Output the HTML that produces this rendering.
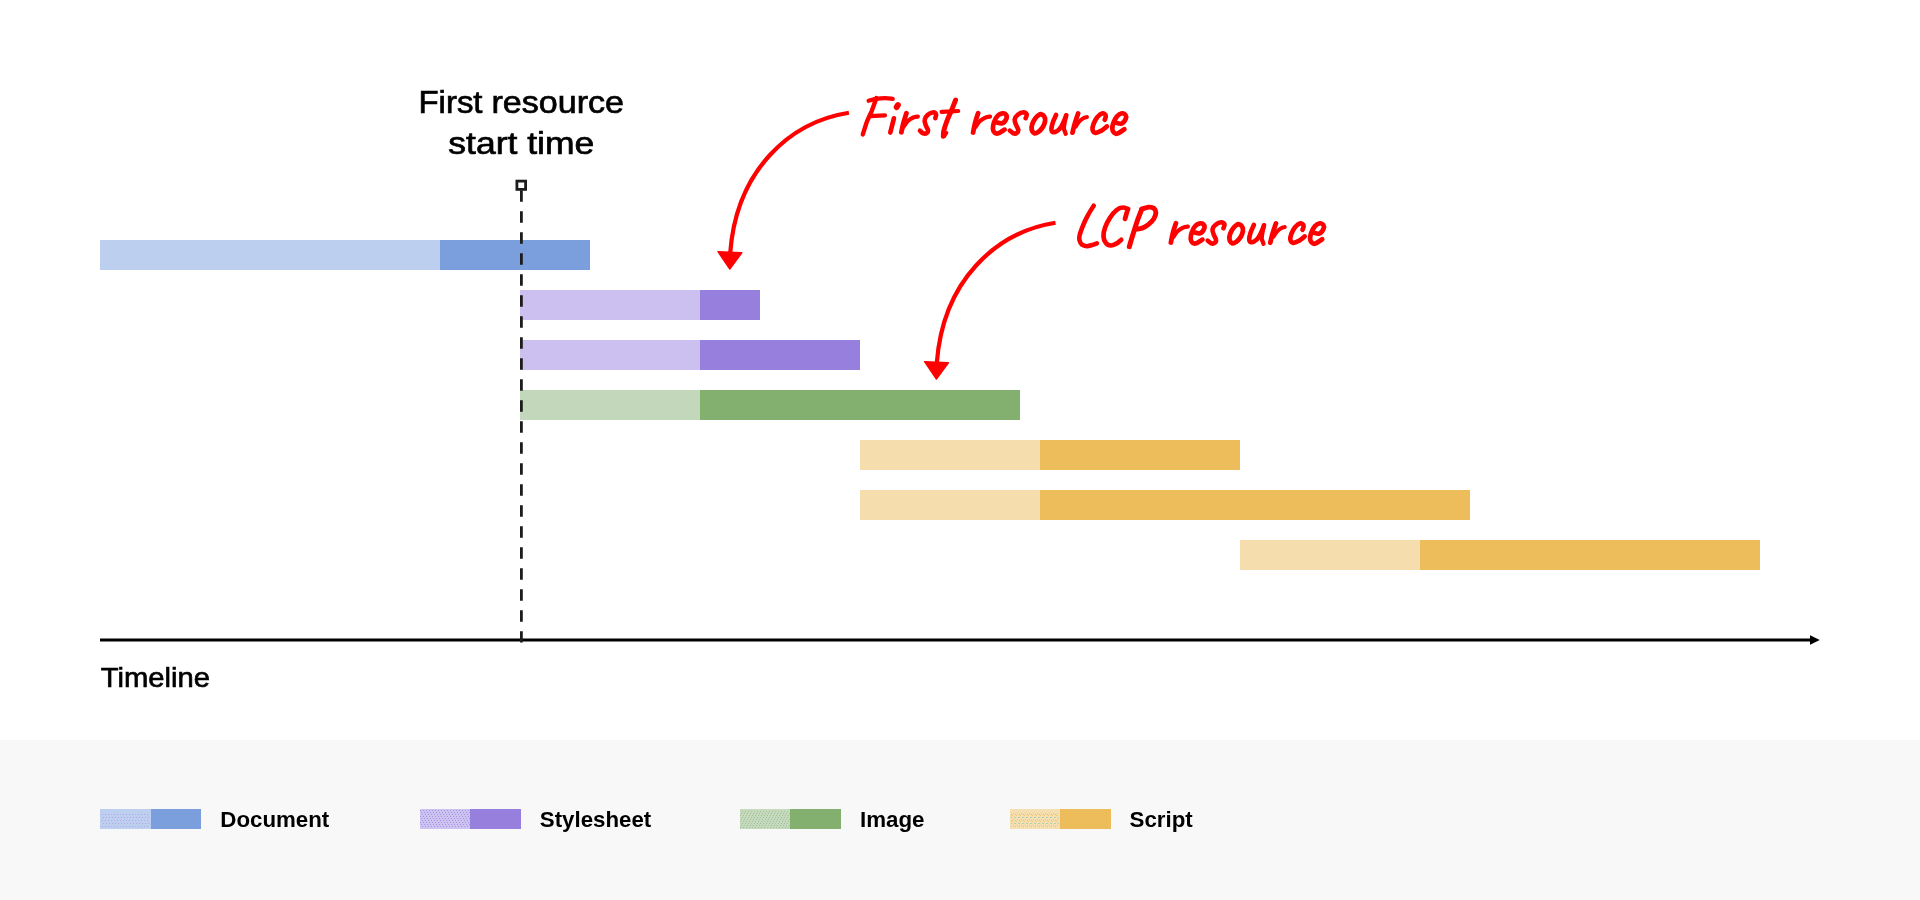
<!DOCTYPE html>
<html lang="en">
<head>
<meta charset="utf-8">
<title>First resource start time – network waterfall</title>
<style>
  html, body { margin: 0; padding: 0; background: #ffffff; }
  body { width: 1920px; height: 900px; overflow: hidden; font-family: "Liberation Sans", sans-serif; }
  svg { display: block; position: absolute; left: 0; top: 0; will-change: transform; }
  text { font-family: "Liberation Sans", sans-serif; fill: #000; }
  .lbl { font-size: 32px; stroke: #000; stroke-width: 0.7px; }
  .axis-lbl { font-size: 27.5px; stroke: #000; stroke-width: 0.65px; }
  .leg { font-size: 22px; font-weight: bold; }
  .hand { fill: none; stroke: #ff0000; stroke-linecap: round; stroke-linejoin: round; }
</style>
</head>
<body>
<svg width="1920" height="900" viewBox="0 0 1920 900">
  <defs>
    <!-- approximations of the palette-dither speckle in the legend swatches -->
    <pattern id="dotsP" x="0" y="0" width="3" height="6" patternUnits="userSpaceOnUse">
      <rect x="1" y="2" width="1" height="1" fill="#a894e6"/><rect x="2" y="4" width="1" height="1" fill="#a894e6"/><rect x="0" y="0" width="1" height="1" fill="#a894e6"/>
    </pattern>
    <pattern id="dotsG" x="0" y="0" width="3" height="6" patternUnits="userSpaceOnUse">
      <rect x="1" y="1" width="1" height="1" fill="#a3bf97"/><rect x="0" y="3" width="1" height="1" fill="#a3bf97"/><rect x="2" y="5" width="1" height="1" fill="#a3bf97"/>
    </pattern>
    <pattern id="dotsY" x="0" y="0" width="4" height="6" patternUnits="userSpaceOnUse">
      <rect x="2" y="1" width="1" height="1" fill="#a8cfae"/><rect x="3" y="1" width="1" height="1" fill="#ecc46e"/>
      <rect x="1" y="3" width="1" height="1" fill="#ecc46e"/><rect x="0" y="5" width="1" height="1" fill="#ecc46e"/><rect x="3" y="4" width="1" height="1" fill="#a8cfae"/>
    </pattern>
    <pattern id="dotsB" x="0" y="0" width="6" height="6" patternUnits="userSpaceOnUse">
      <rect x="1" y="1" width="1" height="1" fill="#b8a4ea"/><rect x="4" y="1" width="1" height="1" fill="#b8a4ea"/>
      <rect x="0" y="4" width="1" height="1" fill="#b8a4ea"/><rect x="3" y="4" width="1" height="1" fill="#b8a4ea"/>
    </pattern>
  </defs>

  <!-- page + legend background -->
  <rect x="0" y="0" width="1920" height="900" fill="#ffffff"/>
  <rect x="0" y="740" width="1920" height="160" fill="#f8f8f8"/>

  <!-- waterfall bars -->
  <g id="bars" shape-rendering="crispEdges">
    <rect x="100" y="240" width="340" height="30" fill="#bccfee"/>
    <rect x="440" y="240" width="150" height="30" fill="#7b9fdc"/>

    <rect x="520" y="290" width="180" height="30" fill="#cbc0ef"/>
    <rect x="700" y="290" width="60" height="30" fill="#977fde"/>

    <rect x="520" y="340" width="180" height="30" fill="#cbc0ef"/>
    <rect x="700" y="340" width="160" height="30" fill="#977fde"/>

    <rect x="520" y="390" width="180" height="30" fill="#c3d7ba"/>
    <rect x="700" y="390" width="320" height="30" fill="#83b06e"/>

    <rect x="860" y="440" width="180" height="30" fill="#f5ddae"/>
    <rect x="1040" y="440" width="200" height="30" fill="#ecbd5a"/>

    <rect x="860" y="490" width="180" height="30" fill="#f5ddae"/>
    <rect x="1040" y="490" width="430" height="30" fill="#ecbd5a"/>

    <rect x="1240" y="540" width="180" height="30" fill="#f5ddae"/>
    <rect x="1420" y="540" width="340" height="30" fill="#ecbd5a"/>
  </g>

  <!-- time axis -->
  <line x1="100" y1="639.9" x2="1811" y2="639.9" stroke="#000" stroke-width="3"/>
  <path d="M1810,635.2 L1819.8,640 L1810,644.8 Z" fill="#000"/>

  <!-- dashed marker -->
  <line x1="521.4" y1="190.2" x2="521.4" y2="642.5" stroke="#1c1c1c" stroke-width="2.8" stroke-dasharray="11.5 9.5"/>
  <rect x="516.9" y="181.1" width="8.7" height="8.3" fill="#ffffff" stroke="#1c1c1c" stroke-width="2.8"/>

  <!-- labels -->
  <text class="lbl" id="w1" x="418.5" y="113.1" textLength="64" lengthAdjust="spacingAndGlyphs">First</text>
  <text class="lbl" id="w2" x="491.5" y="113.1" textLength="132.5" lengthAdjust="spacingAndGlyphs">resource</text>
  <text class="lbl" id="w3" x="448.3" y="154" textLength="146" lengthAdjust="spacingAndGlyphs">start time</text>
  <text class="axis-lbl" id="w4" x="100.8" y="687" textLength="109.2" lengthAdjust="spacingAndGlyphs">Timeline</text>

  <!-- red arrows -->
  <g id="arrow1">
    <path d="M848.9,112.8 C789.8,122.1 736.4,170 730.2,253" fill="none" stroke="#ff0000" stroke-width="4.2" stroke-linecap="butt"/>
    <path d="M718,251.7 L741.8,252.8 L729.8,269 Z" fill="#ff0000" stroke="#ff0000" stroke-width="1.4" stroke-linejoin="round"/>
  </g>
  <g id="arrow2" transform="translate(206.6,110)">
    <path d="M848.9,112.8 C789.8,122.1 736.4,170 730.2,253" fill="none" stroke="#ff0000" stroke-width="4.2" stroke-linecap="butt"/>
    <path d="M718,251.7 L741.8,252.8 L729.8,269 Z" fill="#ff0000" stroke="#ff0000" stroke-width="1.4" stroke-linejoin="round"/>
  </g>

  <!-- handwriting placeholder -->
  <g id="hand">
    <g class="hand">
      <path d="M868.6,100.8 C869.9,100.5 873.4,99.3 876.1,98.9 C878.8,98.5 882.2,98.2 885.0,98.2 C887.8,98.2 891.5,98.7 892.8,98.8" stroke-width="4.2"/>
      <path d="M876.4,98.1 C875.6,100.2 873.2,107.2 871.7,111.1 C870.1,115.0 868.4,117.8 866.9,121.7 C865.5,125.6 863.5,132.3 862.8,134.4" stroke-width="4.4"/>
      <path d="M870.0,116.1 L885.0,115.3" stroke-width="4.2"/>
      <path d="M897.9,105.1 L896.7,107.1" stroke-width="5.9"/>
      <path d="M893.9,118.3 L890.3,132.5" stroke-width="4.7"/>
      <path d="M906.4,113.3 C905.9,115.0 904.2,120.2 903.3,123.3 C902.5,126.5 901.7,130.7 901.4,132.2" stroke-width="4.8"/>
      <path d="M903.6,126.7 C904.4,125.7 906.4,122.4 908.1,120.8 C909.7,119.3 911.7,118.2 913.3,117.5 C915.0,116.8 917.1,116.7 917.9,116.6" stroke-width="4.1"/>
      <path d="M935.3,118.2 C935.4,117.6 936.4,115.4 936.1,114.4 C935.8,113.4 935.0,112.2 933.6,112.2 C932.2,112.3 929.3,113.4 927.8,114.7 C926.3,116.0 924.8,118.1 924.6,120.0 C924.3,121.9 925.5,124.4 926.1,126.1 C926.7,127.8 927.9,129.2 928.1,130.3 C928.2,131.4 927.7,132.2 926.9,132.8 C926.2,133.3 924.5,133.8 923.3,133.4 C922.2,133.1 920.5,131.1 919.9,130.7" stroke-width="4.6"/>
      <path d="M955.6,100.0 C954.9,101.8 952.9,106.9 951.4,110.6 C949.9,114.2 947.9,118.2 946.7,121.7 C945.4,125.1 944.3,128.7 943.7,131.1 C943.2,133.5 943.4,135.4 943.3,136.2" stroke-width="4.9"/>
      <path d="M946.7,132.7 L944.6,136.2" stroke-width="3.4"/>
      <path d="M941.6,111.8 L958.2,111.0" stroke-width="4.2"/>
    </g>
    <g class="hand" id="resource">
      <path d="M978.1,113.2 C977.5,114.9 975.8,120.1 975.0,123.3 C974.2,126.5 973.4,131.0 973.1,132.5" stroke-width="4.8"/>
      <path d="M975.8,126.7 C976.5,125.7 978.4,122.6 980.0,121.1 C981.6,119.6 983.6,118.4 985.3,117.6 C987.0,116.9 989.3,116.7 990.1,116.6" stroke-width="4.1"/>
      <path d="M996.1,122.2 C997.1,122.4 1000.5,123.9 1002.2,123.3 C1003.9,122.7 1005.8,120.1 1006.4,118.6 C1007.0,117.1 1006.6,115.4 1005.9,114.6 C1005.3,113.7 1003.7,113.1 1002.3,113.3 C1001.0,113.5 999.2,114.2 997.8,115.7 C996.4,117.1 994.8,120.0 994.0,122.2 C993.2,124.4 992.8,127.1 992.9,128.9 C993.0,130.6 993.6,131.9 994.6,132.7 C995.5,133.4 996.6,133.9 998.3,133.3 C1000.0,132.8 1003.7,130.2 1004.7,129.6" stroke-width="4.7"/>
      <path d="M1025.6,118.3 C1025.7,117.7 1027.0,115.5 1026.7,114.4 C1026.3,113.4 1025.1,112.2 1023.6,112.2 C1022.1,112.3 1019.3,113.5 1017.8,114.7 C1016.3,115.9 1015.0,117.7 1014.7,119.4 C1014.4,121.2 1015.5,123.3 1016.1,125.0 C1016.7,126.7 1018.1,128.4 1018.2,129.7 C1018.4,131.0 1017.8,132.3 1016.9,132.9 C1016.1,133.5 1014.5,133.7 1013.3,133.3 C1012.2,132.9 1010.5,131.0 1009.9,130.6" stroke-width="4.6"/>
      <path d="M1041.4,114.3 C1042.4,114.5 1043.8,115.5 1044.4,116.7 C1045.1,117.8 1045.4,119.4 1045.1,121.1 C1044.8,122.9 1043.9,125.4 1042.8,127.2 C1041.6,129.0 1039.7,131.0 1038.3,131.9 C1036.9,132.9 1035.4,133.6 1034.3,133.2 C1033.2,132.8 1032.0,131.0 1031.7,129.4 C1031.3,127.9 1031.7,125.7 1032.3,123.9 C1032.9,122.0 1034.2,119.8 1035.3,118.3 C1036.3,116.9 1037.6,115.8 1038.6,115.1 C1039.6,114.4 1040.4,114.0 1041.4,114.3 Z" stroke-width="4.8"/>
      <path d="M1056.1,114.9 C1055.6,116.1 1053.7,119.9 1052.9,122.2 C1052.1,124.6 1051.5,127.2 1051.4,128.9 C1051.4,130.5 1051.9,131.7 1052.8,132.1 C1053.7,132.4 1055.5,132.0 1056.9,131.1 C1058.4,130.2 1059.9,128.7 1061.2,126.7 C1062.5,124.6 1064.1,120.8 1064.9,118.9 C1065.7,117.0 1066.0,115.9 1066.2,115.3" stroke-width="4.6"/>
      <path d="M1066.2,115.3 C1066.0,116.4 1065.1,120.0 1064.7,122.2 C1064.3,124.4 1063.8,126.7 1063.9,128.3 C1063.9,130.0 1064.7,131.0 1065.0,131.9 C1065.3,132.8 1065.6,133.4 1065.7,133.7" stroke-width="4.3"/>
      <path d="M1078.1,113.5 C1077.5,115.2 1075.6,120.7 1074.7,123.9 C1073.8,127.1 1072.9,131.2 1072.5,132.6" stroke-width="4.8"/>
      <path d="M1075.6,126.7 C1076.1,125.9 1077.6,123.2 1078.9,121.8 C1080.2,120.4 1082.0,118.9 1083.3,118.2 C1084.7,117.4 1086.3,117.3 1086.9,117.1" stroke-width="4.1"/>
      <path d="M1104.7,119.8 C1104.9,119.2 1106.2,116.9 1105.8,115.8 C1105.5,114.8 1103.9,113.1 1102.5,113.3 C1101.1,113.6 1098.7,115.5 1097.2,117.2 C1095.7,119.0 1094.4,121.9 1093.6,123.9 C1092.8,125.9 1092.2,127.9 1092.5,129.4 C1092.8,130.9 1093.8,132.7 1095.3,132.9 C1096.7,133.1 1099.2,131.9 1101.1,130.8 C1103.1,129.8 1106.0,127.1 1106.9,126.4" stroke-width="4.7"/>
      <path d="M1115.4,122.5 C1116.4,122.7 1119.7,124.3 1121.4,123.6 C1123.1,123.0 1125.2,120.1 1125.8,118.6 C1126.5,117.1 1126.0,115.6 1125.4,114.7 C1124.8,113.8 1123.4,113.1 1122.1,113.3 C1120.7,113.6 1118.7,114.5 1117.2,116.1 C1115.8,117.7 1114.3,120.6 1113.4,122.8 C1112.6,124.9 1112.2,127.2 1112.3,128.9 C1112.4,130.5 1113.2,131.9 1114.0,132.7 C1114.8,133.5 1115.6,134.2 1117.3,133.6 C1119.1,133.1 1123.3,130.0 1124.4,129.3" stroke-width="4.7"/>
    </g>
    <use href="#resource" transform="translate(197.8,110)"/>
    <g class="hand">
      <path d="M1093.7,205.7 C1092.7,207.3 1089.4,212.3 1087.7,215.7 C1085.9,219.0 1084.3,222.4 1083.0,225.7 C1081.7,228.9 1080.3,232.6 1079.7,235.0 C1079.1,237.4 1079.1,238.7 1079.5,240.3 C1079.9,241.9 1080.8,243.7 1082.0,244.7 C1083.2,245.6 1085.0,246.1 1086.7,246.2 C1088.3,246.3 1090.3,245.6 1092.0,245.1 C1093.7,244.7 1096.1,243.6 1096.9,243.3" stroke-width="4.6"/>
      <path d="M1125.0,218.9 C1125.3,217.9 1126.2,214.6 1126.7,213.0 C1127.2,211.4 1127.8,209.8 1128.0,209.1" stroke-width="4.7"/>
      <path d="M1128.0,209.1 C1127.1,208.9 1124.6,207.3 1122.7,207.5 C1120.8,207.6 1118.8,208.3 1116.7,210.0 C1114.6,211.7 1111.9,214.7 1110.0,217.7 C1108.1,220.6 1106.1,224.6 1105.0,227.7 C1103.9,230.8 1103.4,233.8 1103.5,236.3 C1103.6,238.8 1104.5,241.1 1105.7,242.7 C1106.9,244.2 1108.9,245.4 1110.7,245.5 C1112.4,245.7 1114.6,244.6 1116.3,243.7 C1118.1,242.7 1120.4,240.4 1121.2,239.8" stroke-width="4.7"/>
      <path d="M1141.7,209.3 C1140.9,211.4 1138.4,217.5 1137.0,221.7 C1135.6,225.8 1134.3,230.2 1133.0,234.3 C1131.7,238.5 1129.9,244.6 1129.3,246.7" stroke-width="5.0"/>
      <path d="M1141.7,209.1 C1142.8,208.8 1146.6,207.3 1148.7,207.1 C1150.7,207.0 1152.8,207.4 1154.0,208.3 C1155.2,209.3 1155.9,210.9 1155.9,212.7 C1155.8,214.4 1154.9,217.0 1153.7,219.0 C1152.4,221.0 1150.2,223.1 1148.3,224.7 C1146.4,226.2 1144.3,227.4 1142.3,228.1 C1140.4,228.9 1137.6,228.9 1136.7,229.0" stroke-width="4.9"/>
    </g>
  </g>

  <!-- legend -->
  <g id="legend">
    <g shape-rendering="crispEdges">
      <rect x="100" y="809" width="51" height="20" fill="#bccfee"/><rect x="102" y="812" width="48" height="15" fill="url(#dotsB)"/>
      <rect x="151" y="809" width="50" height="20" fill="#7b9fdc"/>
      <rect x="420" y="809" width="50" height="20" fill="#cdc3f0"/><rect x="420" y="810" width="50" height="18" fill="url(#dotsP)"/>
      <rect x="470" y="809" width="51" height="20" fill="#977fde"/>
      <rect x="740" y="809" width="50" height="20" fill="#c5d9bd"/><rect x="740" y="810" width="50" height="18" fill="url(#dotsG)"/>
      <rect x="790" y="809" width="51" height="20" fill="#83b06e"/>
      <rect x="1010" y="809" width="50" height="20" fill="#f5deb0"/><rect x="1011" y="812" width="48" height="15" fill="url(#dotsY)"/>
      <rect x="1060" y="809" width="51" height="20" fill="#ecbd5a"/>
    </g>
    <text class="leg" x="220.3" y="827.3" textLength="109" lengthAdjust="spacingAndGlyphs">Document</text>
    <text class="leg" x="539.8" y="827.3" textLength="111.4" lengthAdjust="spacingAndGlyphs">Stylesheet</text>
    <text class="leg" x="860" y="827.3" textLength="64.5" lengthAdjust="spacingAndGlyphs">Image</text>
    <text class="leg" x="1129.6" y="827.3" textLength="63.2" lengthAdjust="spacingAndGlyphs">Script</text>
  </g>
</svg>
</body>
</html>
